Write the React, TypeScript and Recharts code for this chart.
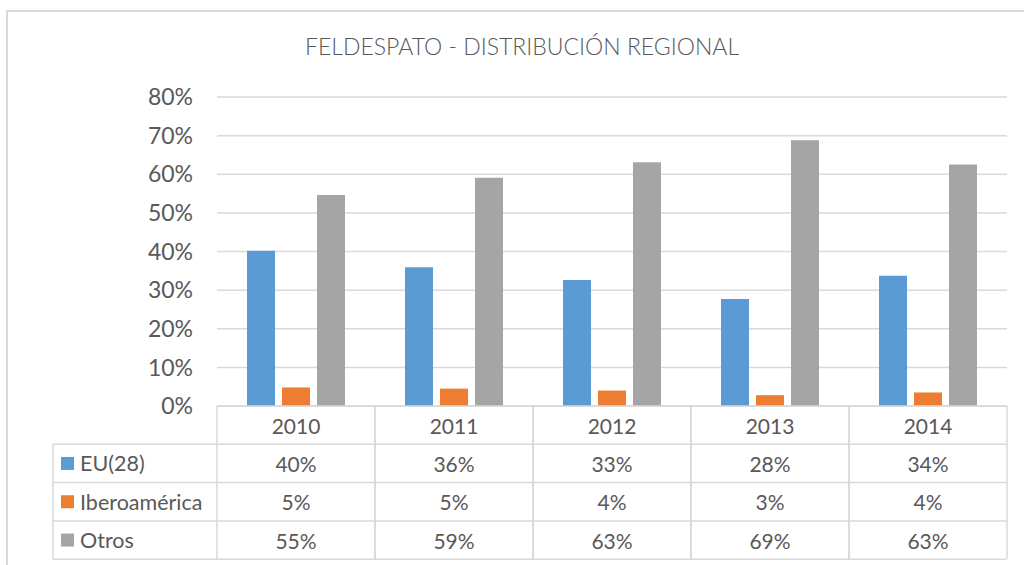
import React from 'react';
import { BarChart, Bar, XAxis, YAxis, CartesianGrid } from 'recharts';

const years = ['2010', '2011', '2012', '2013', '2014'];
const euValues = [40.2, 35.9, 32.6, 27.7, 33.7];
const iberoValues = [4.8, 4.5, 4.0, 2.8, 3.5];
const otrosValues = [54.6, 59.1, 63.1, 68.8, 62.5];
const seriesNames = ['EU(28)', 'Iberoamérica', 'Otros'];
const seriesColors = ['#5b9bd5', '#ed7d31', '#a5a5a5'];
const yTicks = [0, 10, 20, 30, 40, 50, 60, 70, 80];

const data = years.map((y, i) => ({
  year: y,
  eu: euValues[i],
  ibero: iberoValues[i],
  otros: otrosValues[i],
}));
const seriesValues = [euValues, iberoValues, otrosValues];

const W = 1024;
const H = 565;
const M = { top: 97, right: 17, bottom: 0, left: 157 };
const Y_AXIS_W = 60;
const X_AXIS_H = 159;
const PLOT_LEFT = M.left + Y_AXIS_W;
const PLOT_RIGHT = W - M.right;
const BAND = (PLOT_RIGHT - PLOT_LEFT) / years.length;
const ROW_H = 38.3;
const TABLE_LEFT = 53;
const LINE = '#d9d9d9';
const TEXT = '#595959';
const FONT = 'Lato, "Open Sans", sans-serif';

const TableColumn = (props: any) => {
  const { x, y, payload } = props;
  const i = payload?.index ?? props.index ?? 0;
  const left = x - BAND / 2;
  const right = x + BAND / 2;
  const bottom = y + ROW_H * 4;
  return (
    <g>
      <line x1={left} y1={y} x2={left} y2={bottom} stroke={LINE} strokeWidth={1.5} />
      <line x1={right} y1={y} x2={right} y2={bottom} stroke={LINE} strokeWidth={1.5} />
      <text x={x} y={y + ROW_H / 2} textAnchor="middle" dominantBaseline="central" fill={TEXT} fontSize={21} fontFamily={FONT}>
        {years[i]}
      </text>
      {seriesValues.map((vals, r) => (
        <text key={r} x={x} y={y + ROW_H * (r + 1.5)} textAnchor="middle" dominantBaseline="central" fill={TEXT} fontSize={21} fontFamily={FONT}>
          {`${Math.round(vals[i])}%`}
        </text>
      ))}
      {i === 0 && (
        <g>
          {[1, 2, 3, 4].map((r) => (
            <line key={r} x1={TABLE_LEFT} y1={y + ROW_H * r} x2={PLOT_RIGHT - 1} y2={y + ROW_H * r} stroke={LINE} strokeWidth={1.5} />
          ))}
          <line x1={TABLE_LEFT} y1={y + ROW_H} x2={TABLE_LEFT} y2={bottom} stroke={LINE} strokeWidth={1.5} />
          {seriesNames.map((n, r) => (
            <g key={n}>
              <rect x={61} y={y + ROW_H * (r + 1.5) - 6.5} width={13} height={13} fill={seriesColors[r]} />
              <text x={80} y={y + ROW_H * (r + 1.5)} dominantBaseline="central" fill={TEXT} fontSize={21.5} fontFamily={FONT}>
                {n}
              </text>
            </g>
          ))}
        </g>
      )}
    </g>
  );
};

export default function App() {
  return (
    <div style={{ position: 'absolute', left: 0, top: 0, width: W, height: H, background: '#fff' }}>
      <div
        style={{
          position: 'absolute',
          left: 6,
          top: 10,
          width: W,
          height: H,
          borderLeft: `2px solid ${LINE}`,
          borderTop: `2px solid ${LINE}`,
        }}
      />
      <div
        style={{
          position: 'absolute',
          left: 0,
          top: 32,
          width: 1044,
          textAlign: 'center',
          fontFamily: FONT,
          fontWeight: 300,
          fontSize: 23,
          color: TEXT,
        }}
      >
        FELDESPATO - DISTRIBUCIÓN REGIONAL
      </div>
      <div style={{ position: 'absolute', left: 0, top: 0 }}>
        <BarChart width={W} height={H} data={data} margin={M} barSize={28} barGap={7}>
          <CartesianGrid vertical={false} stroke={LINE} strokeWidth={1.5} />
          <XAxis
            dataKey="year"
            height={X_AXIS_H}
            axisLine={{ stroke: LINE, strokeWidth: 1.5 }}
            tickLine={false}
            tickSize={0}
            tickMargin={0}
            interval={0}
            tick={TableColumn}
          />
          <YAxis
            width={Y_AXIS_W}
            domain={[0, 80]}
            ticks={yTicks}
            tickFormatter={(v: number) => `${v}%`}
            axisLine={false}
            tickLine={false}
            tickSize={0}
            tickMargin={24}
            tick={{ fill: TEXT, fontSize: 23, fontFamily: FONT }}
          />
          <Bar dataKey="eu" name={seriesNames[0]} fill={seriesColors[0]} isAnimationActive={false} />
          <Bar dataKey="ibero" name={seriesNames[1]} fill={seriesColors[1]} isAnimationActive={false} />
          <Bar dataKey="otros" name={seriesNames[2]} fill={seriesColors[2]} isAnimationActive={false} />
        </BarChart>
      </div>
    </div>
  );
}
